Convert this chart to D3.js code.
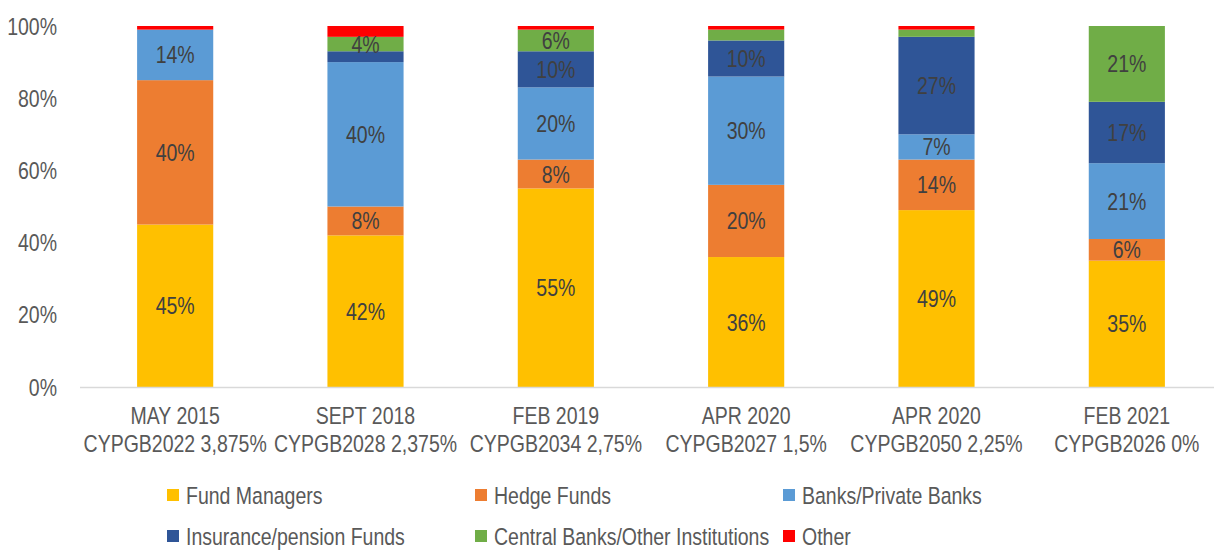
<!DOCTYPE html>
<html><head><meta charset="utf-8">
<script src="https://cdn.jsdelivr.net/npm/d3@7"></script>
<style>
body{margin:0;background:#fff;}
text{font-family:"Liberation Sans Narrow","Arial Narrow","Liberation Sans",Arial,sans-serif;}
</style></head>
<body><svg id="c" width="1214" height="550"></svg>
<script>
const categoriesLine1 = ["MAY 2015","SEPT 2018","FEB 2019","APR 2020","APR 2020","FEB 2021"];
const categoriesLine2 = ["CYPGB2022 3,875%","CYPGB2028 2,375%","CYPGB2034 2,75%","CYPGB2027 1,5%","CYPGB2050 2,25%","CYPGB2026 0%"];
const seriesNames = ["Fund Managers","Hedge Funds","Banks/Private Banks","Insurance/pension Funds","Central Banks/Other Institutions","Other"];
const fundManagers = [45,42,55,36,49,35];
const hedgeFunds = [40,8,8,20,14,6];
const banksPrivate = [14,40,20,30,7,21];
const insurancePension = [0,3,10,10,27,17];
const centralBanks = [0,4,6,3,2,21];
const other = [1,3,1,1,1,0];
const yTicks = [0,20,40,60,80,100];
const colors = ["#FFC000","#ED7D31","#5B9BD5","#2F5597","#70AD47","#FF0000"];

const seriesValues = [fundManagers,hedgeFunds,banksPrivate,insurancePension,centralBanks,other];
const svg = d3.select("#c");
const x = d3.scaleBand().domain(d3.range(categoriesLine1.length)).range([80,1222]);
const y = d3.scaleLinear().domain([0,100]).range([387,26]);
const barW = x.bandwidth()*0.4;

// narrow text helper: Liberation Sans condensed horizontally
const FS = 23.5, SX = 0.83;
function ntext(parent, tx, ty, str, anchor, fill){
  const gg = parent.append("g").attr("transform",`translate(${tx},${ty}) scale(${SX},1)`);
  gg.append("text").attr("x",0).attr("y",0).attr("text-anchor",anchor)
    .attr("fill",fill).attr("font-size",FS).text(str);
  return gg;
}

// y axis labels
const ya = svg.append("g");
yTicks.forEach(d=>ntext(ya,57,y(d)+8.5,d+"%","end","#595959"));

// stacked data
const table = categoriesLine1.map((c,i)=>{const o={i}; seriesNames.forEach((s,k)=>o[s]=seriesValues[k][i]); return o;});
const stack = d3.stack().keys(seriesNames)(table);

const g = svg.append("g");
stack.forEach((layer,k)=>{
  g.append("g").selectAll("rect").data(layer).join("rect")
   .attr("x",d=>x(d.data.i)+x.bandwidth()/2-barW/2)
   .attr("width",barW)
   .attr("y",d=>y(d[1]))
   .attr("height",d=>y(d[0])-y(d[1]))
   .attr("fill",colors[k]);
});
// labels
const lbl = svg.append("g");
stack.forEach((layer,k)=>{
  layer.filter(d=>d[1]-d[0]>=4).forEach(d=>{
    ntext(lbl, x(d.data.i)+x.bandwidth()/2, y((d[0]+d[1])/2)+8.5, (d[1]-d[0])+"%", "middle", "#404040");
  });
});

// axis line
svg.append("line").attr("x1",80).attr("x2",1214).attr("y1",y(0)+0.5).attr("y2",y(0)+0.5)
  .attr("stroke","#d9d9d9").attr("stroke-width",1.5);

// x labels
const xl = svg.append("g");
categoriesLine1.forEach((c,i)=>{
  const cx = x(i)+x.bandwidth()/2;
  ntext(xl,cx,424,c,"middle","#595959");
  ntext(xl,cx,452,categoriesLine2[i],"middle","#595959");
});

// legend
const lg = svg.append("g");
seriesNames.forEach((s,k)=>{
  const col = k%3, row = Math.floor(k/3);
  const lx = 167 + col*308, ly = 495 + row*41;
  lg.append("rect").attr("x",lx).attr("y",ly-6).attr("width",12).attr("height",12).attr("fill",colors[k]);
  ntext(lg,lx+19,ly+8.5,s,"start","#595959");
});
</script></body></html>
